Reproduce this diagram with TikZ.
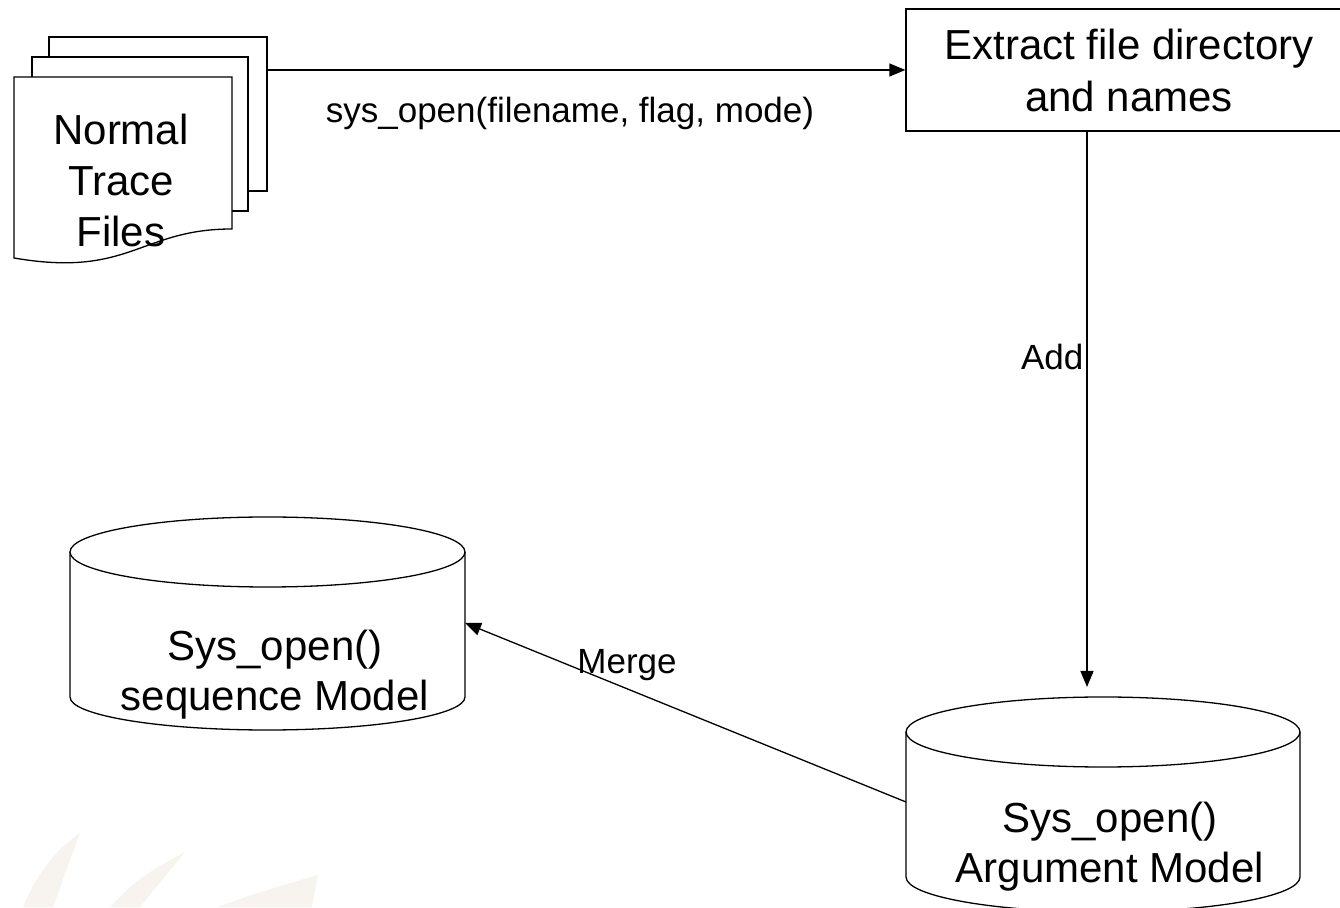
\documentclass[tikz,border=0pt]{standalone}
\usepackage{fontspec}
\setmainfont{Liberation Sans}
\usetikzlibrary{arrows.meta, positioning}

\definecolor{logotint}{RGB}{247,243,238}

\begin{document}
\begin{tikzpicture}[
  x=1pt, y=1pt,
  line width=1.3pt,
  sheet/.style={rectangle, draw, fill=white, minimum width=218pt, minimum height=154pt},
  box/.style={rectangle, draw, align=center, font=\fontsize{42}{52}\selectfont},
  body/.style={align=center, font=\fontsize{42}{50}\selectfont},
  lbl/.style={font=\fontsize{35}{42}\selectfont, inner sep=0pt},
  arrow/.style={-{Triangle[length=16pt, width=13pt]}},
  logo/.style={fill=logotint, draw=none}
]

\useasboundingbox (0,0) rectangle (1340,907);

% faint logo in the corner
\fill[logo] (23,0) .. controls (40,40) and (60,60) .. (80,74) -- (53,0) -- cycle;
\fill[logo] (110,0) .. controls (140,30) .. (185,55) -- (140,0) -- cycle;
\fill[logo] (217,0) .. controls (260,15) .. (318,32) -- (312,0) -- cycle;

% trace files
\node[sheet] (back) at (158,793) {};
\node[sheet, minimum width=216pt] (mid) at (140,773) {};
\draw[fill=white] (14,830) -- (232,830) -- (232,678) .. controls (140,678) and (130,629) .. (14,649) -- cycle;
\node[body, font=\fontsize{42}{51}\selectfont] (trace) at (121,727) {Normal\\Trace\\Files};

\node[box, minimum width=446pt, minimum height=122pt] (extract) at (1129,837) {Extract file directory\\and names};

\draw[arrow] (back.east |- extract.west) -- (extract.west);
\node[lbl] (call) at (570,794) {sys\_open(filename, flag, mode)};

% sequence model
\draw (70,355) -- (70,210) arc[start angle=180, end angle=360, x radius=197.5, y radius=33] -- (465,355);
\draw (267.5,355) ellipse [x radius=197.5, y radius=35];
\node[body] (seqm) at (275,232) {Sys\_open()\\sequence Model};

% argument model
\draw (906,175) -- (906,30) arc[start angle=180, end angle=360, x radius=197, y radius=35] -- (1300,175);
\draw (1103,175) ellipse [x radius=197, y radius=35];
\node[body] (argm) at (1110,60) {Sys\_open()\\Argument Model};

\coordinate (argin) at (1087,220);
\draw[arrow] (extract.south -| argin) -- node[lbl, left=3pt, pos=0.405] (add) {Add} (argin);

\coordinate (argside) at (906,105);
\coordinate (seqside) at (465,284);
\draw[arrow] (argside) -- (seqside);
\node[lbl] (merge) at (627,242) {Merge};

\end{tikzpicture}
\end{document}
